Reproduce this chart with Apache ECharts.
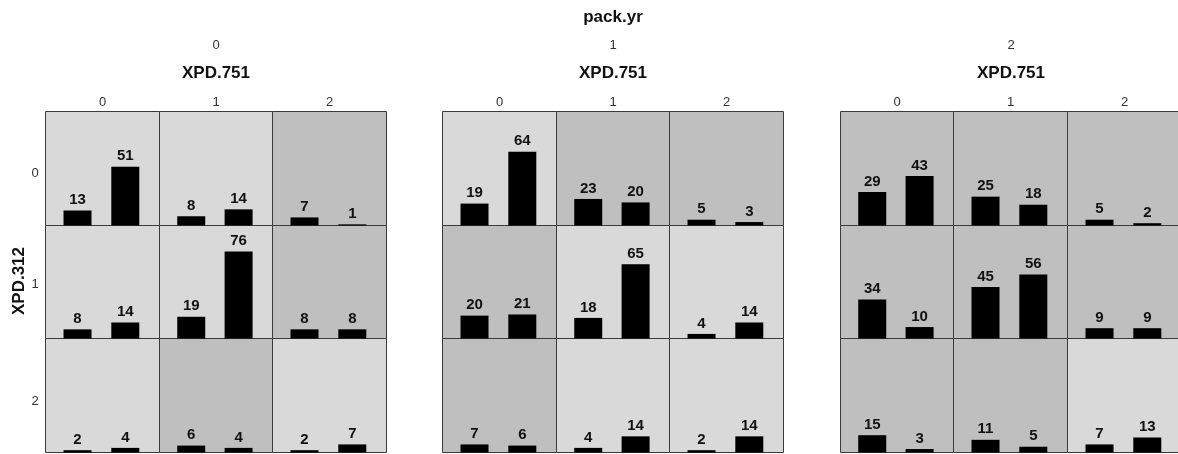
<!DOCTYPE html>
<html>
<head>
<meta charset="utf-8">
<script src="https://cdn.jsdelivr.net/npm/echarts@6/dist/echarts.min.js"></script>
<style>
html,body{margin:0;padding:0;background:#fff;overflow:hidden;}
#wrap{width:1178px;height:454px;overflow:hidden;}
#chart{width:1200px;height:454px;}
</style>
</head>
<body>
<div id="wrap"><div id="chart"></div></div>
<script>
// ---- data ----
const packYrLabels = ['0', '1', '2'];
const xpd751Labels = ['0', '1', '2'];
const xpd312Labels = ['0', '1', '2'];
// counts[panel][row(XPD.312)][col(XPD.751)] = [bar1, bar2]
const pack0 = [
  [[13, 51], [8, 14], [7, 1]],
  [[8, 14], [19, 76], [8, 8]],
  [[2, 4], [6, 4], [2, 7]]
];
const pack1 = [
  [[19, 64], [23, 20], [5, 3]],
  [[20, 21], [18, 65], [4, 14]],
  [[7, 6], [4, 14], [2, 14]]
];
const pack2 = [
  [[29, 43], [25, 18], [5, 2]],
  [[34, 10], [45, 56], [9, 9]],
  [[15, 3], [11, 5], [7, 13]]
];
// shading: 0 = light, 1 = dark
const shade0 = [[0, 0, 1], [0, 0, 1], [0, 1, 0]];
const shade1 = [[0, 1, 1], [1, 0, 0], [1, 0, 0]];
const shade2 = [[1, 1, 1], [1, 1, 1], [1, 1, 0]];
// bar positions within a cell (x axis runs 0..12)
const barSlots = [3.37, 8.4];

const panels = [pack0, pack1, pack2];
const shades = [shade0, shade1, shade2];

// ---- layout ----
const colEdges = [
  [45.5, 159.5, 272.5, 386.5],
  [442.5, 556.5, 669.5, 783.5],
  [840.5, 953.5, 1067.5, 1181.5]
];
const rowEdges = [111.5, 225.5, 338.5, 452.5];
const shadeColors = ['#d9d9d9', '#bfbfbf'];
const allVals = panels.flat(3);
const yMax = Math.max(...allVals) * 1.3;

const grids = [], xAxes = [], yAxes = [], series = [];
let gi = 0;
for (let p = 0; p < 3; p++) {
  for (let r = 0; r < 3; r++) {
    for (let c = 0; c < 3; c++) {
      const l = colEdges[p][c], t = rowEdges[r];
      grids.push({
        left: l, top: t,
        width: colEdges[p][c + 1] - l,
        height: rowEdges[r + 1] - t,
        show: true,
        backgroundColor: shadeColors[shades[p][r][c]],
        borderColor: '#3a3a3a',
        borderWidth: 1,
        containLabel: false
      });
      xAxes.push({type: 'value', gridIndex: gi, min: 0, max: 12, show: false});
      yAxes.push({type: 'value', gridIndex: gi, min: 0, max: yMax, show: false});
      const v = panels[p][r][c];
      series.push({
        type: 'bar',
        xAxisIndex: gi, yAxisIndex: gi,
        barWidth: 28,
        data: [[barSlots[0], v[0]], [barSlots[1], v[1]]],
        itemStyle: {color: '#000'},
        label: {
          show: true, position: 'top', distance: 3,
          formatter: (d) => String(d.value[1]),
          fontFamily: 'Liberation Sans, Arial, sans-serif',
          fontWeight: 'bold', fontSize: 15, color: '#111'
        },
        silent: true,
        animation: false
      });
      gi++;
    }
  }
}

const FF = 'Liberation Sans, Arial, sans-serif';
const graphics = [];
function txt(x, y, s, opt) {
  graphics.push({
    type: 'text', x: x, y: y,
    style: Object.assign({
      text: s, align: 'center', verticalAlign: 'middle',
      fontFamily: FF, fontSize: 13, fill: '#333'
    }, opt || {})
  });
}
txt(613, 17, 'pack.yr', {fontWeight: 'bold', fontSize: 17, fill: '#111'});
for (let p = 0; p < 3; p++) {
  const cx = (colEdges[p][0] + colEdges[p][3]) / 2;
  txt(cx, 45, packYrLabels[p], {fontSize: 13});
  txt(cx, 73, 'XPD.751', {fontWeight: 'bold', fontSize: 17, fill: '#111'});
  for (let c = 0; c < 3; c++) {
    txt((colEdges[p][c] + colEdges[p][c + 1]) / 2, 102, xpd751Labels[c], {fontSize: 13});
  }
}
const rowLabelY = [173, 284, 401];
for (let r = 0; r < 3; r++) txt(35, rowLabelY[r], xpd312Labels[r], {fontSize: 13});
graphics.push({
  type: 'text', x: 19, y: 281, rotation: Math.PI / 2,
  style: {text: 'XPD.312', align: 'center', verticalAlign: 'middle',
    fontFamily: FF, fontWeight: 'bold', fontSize: 17, fill: '#111'}
});

const chart = echarts.init(document.getElementById('chart'), null, {renderer: 'canvas'});
chart.setOption({
  animation: false,
  backgroundColor: '#fff',
  grid: grids,
  xAxis: xAxes,
  yAxis: yAxes,
  series: series,
  graphic: graphics
});
</script>
</body>
</html>
